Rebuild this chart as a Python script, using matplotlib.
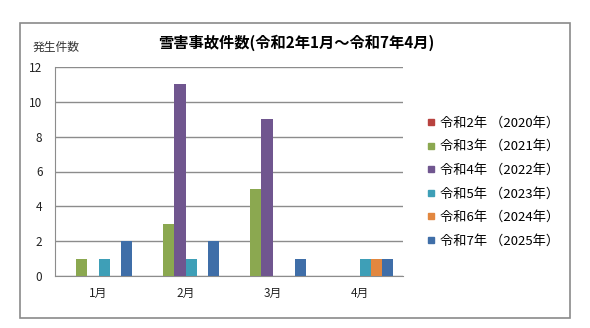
import numpy as np
import matplotlib.pyplot as plt
from matplotlib.lines import Line2D
from matplotlib.patches import Rectangle

plt.rcParams["font.family"] = ["Noto Sans CJK JP", "DejaVu Sans"]

months = ["1月", "2月", "3月", "4月"]
series_names = ["令和2年 （2020年）", "令和3年 （2021年）", "令和4年 （2022年）",
                "令和5年 （2023年）", "令和6年 （2024年）", "令和7年 （2025年）"]
r2 = [0, 0, 0, 0]
r3 = [1, 3, 5, 0]
r4 = [0, 11, 9, 0]
r5 = [1, 1, 0, 1]
r6 = [0, 0, 0, 1]
r7 = [2, 2, 1, 1]
colors = ["#B8423F", "#8BA850", "#70568F", "#3E9FB7", "#E2873F", "#3F6EA8"]

fig = plt.figure(figsize=(5.9, 3.28), dpi=100)

# outer frame
fig.patches.append(Rectangle((20/590, 1-318/328), 550/590, 295/328, transform=fig.transFigure,
                             fill=False, edgecolor="#8a8a8a", lw=1.2))

ax = fig.add_axes([55/590, 1-276/328, 348/590, 209/328])

x = np.arange(len(months))
w = 0.13
data = [r2, r3, r4, r5, r6, r7]
for i, (vals, c) in enumerate(zip(data, colors)):
    ax.bar(x + (i - 2.5) * w, vals, width=w, color=c, zorder=3)

ax.set_xlim(-0.5, 3.5)
ax.set_ylim(0, 12)
ax.set_yticks(range(0, 13, 2))
ax.set_xticks(x)
ax.set_xticklabels(months)
ax.grid(axis="y", color="#8c8c8c", lw=1, zorder=0)
for s in ["top", "right"]:
    ax.spines[s].set_visible(False)
ax.spines["left"].set_color("#8c8c8c")
ax.spines["bottom"].set_color("#8c8c8c")
ax.tick_params(axis="both", length=0, labelsize=8.5, colors="#222222")
ax.tick_params(axis="y", pad=9)
ax.tick_params(axis="x", pad=8)

fig.text(296/590, 1-43/328, "雪害事故件数(令和2年1月～令和7年4月)", ha="center", va="center",
         fontsize=11, fontweight="bold")
fig.text(33/590, 1-47/328, "発生件数", ha="left", va="center", fontsize=8.5, color="#333333")

handles = [Line2D([], [], marker="s", ls="none", color=c, markersize=5) for c in colors]
fig.legend(handles, series_names, loc="upper left", bbox_to_anchor=(420/590, 1-110/328),
           frameon=False, fontsize=9.5, handlelength=0.6, handletextpad=0.4, labelspacing=0.8,
           borderpad=0)

fig.savefig("out.png", dpi=100)
